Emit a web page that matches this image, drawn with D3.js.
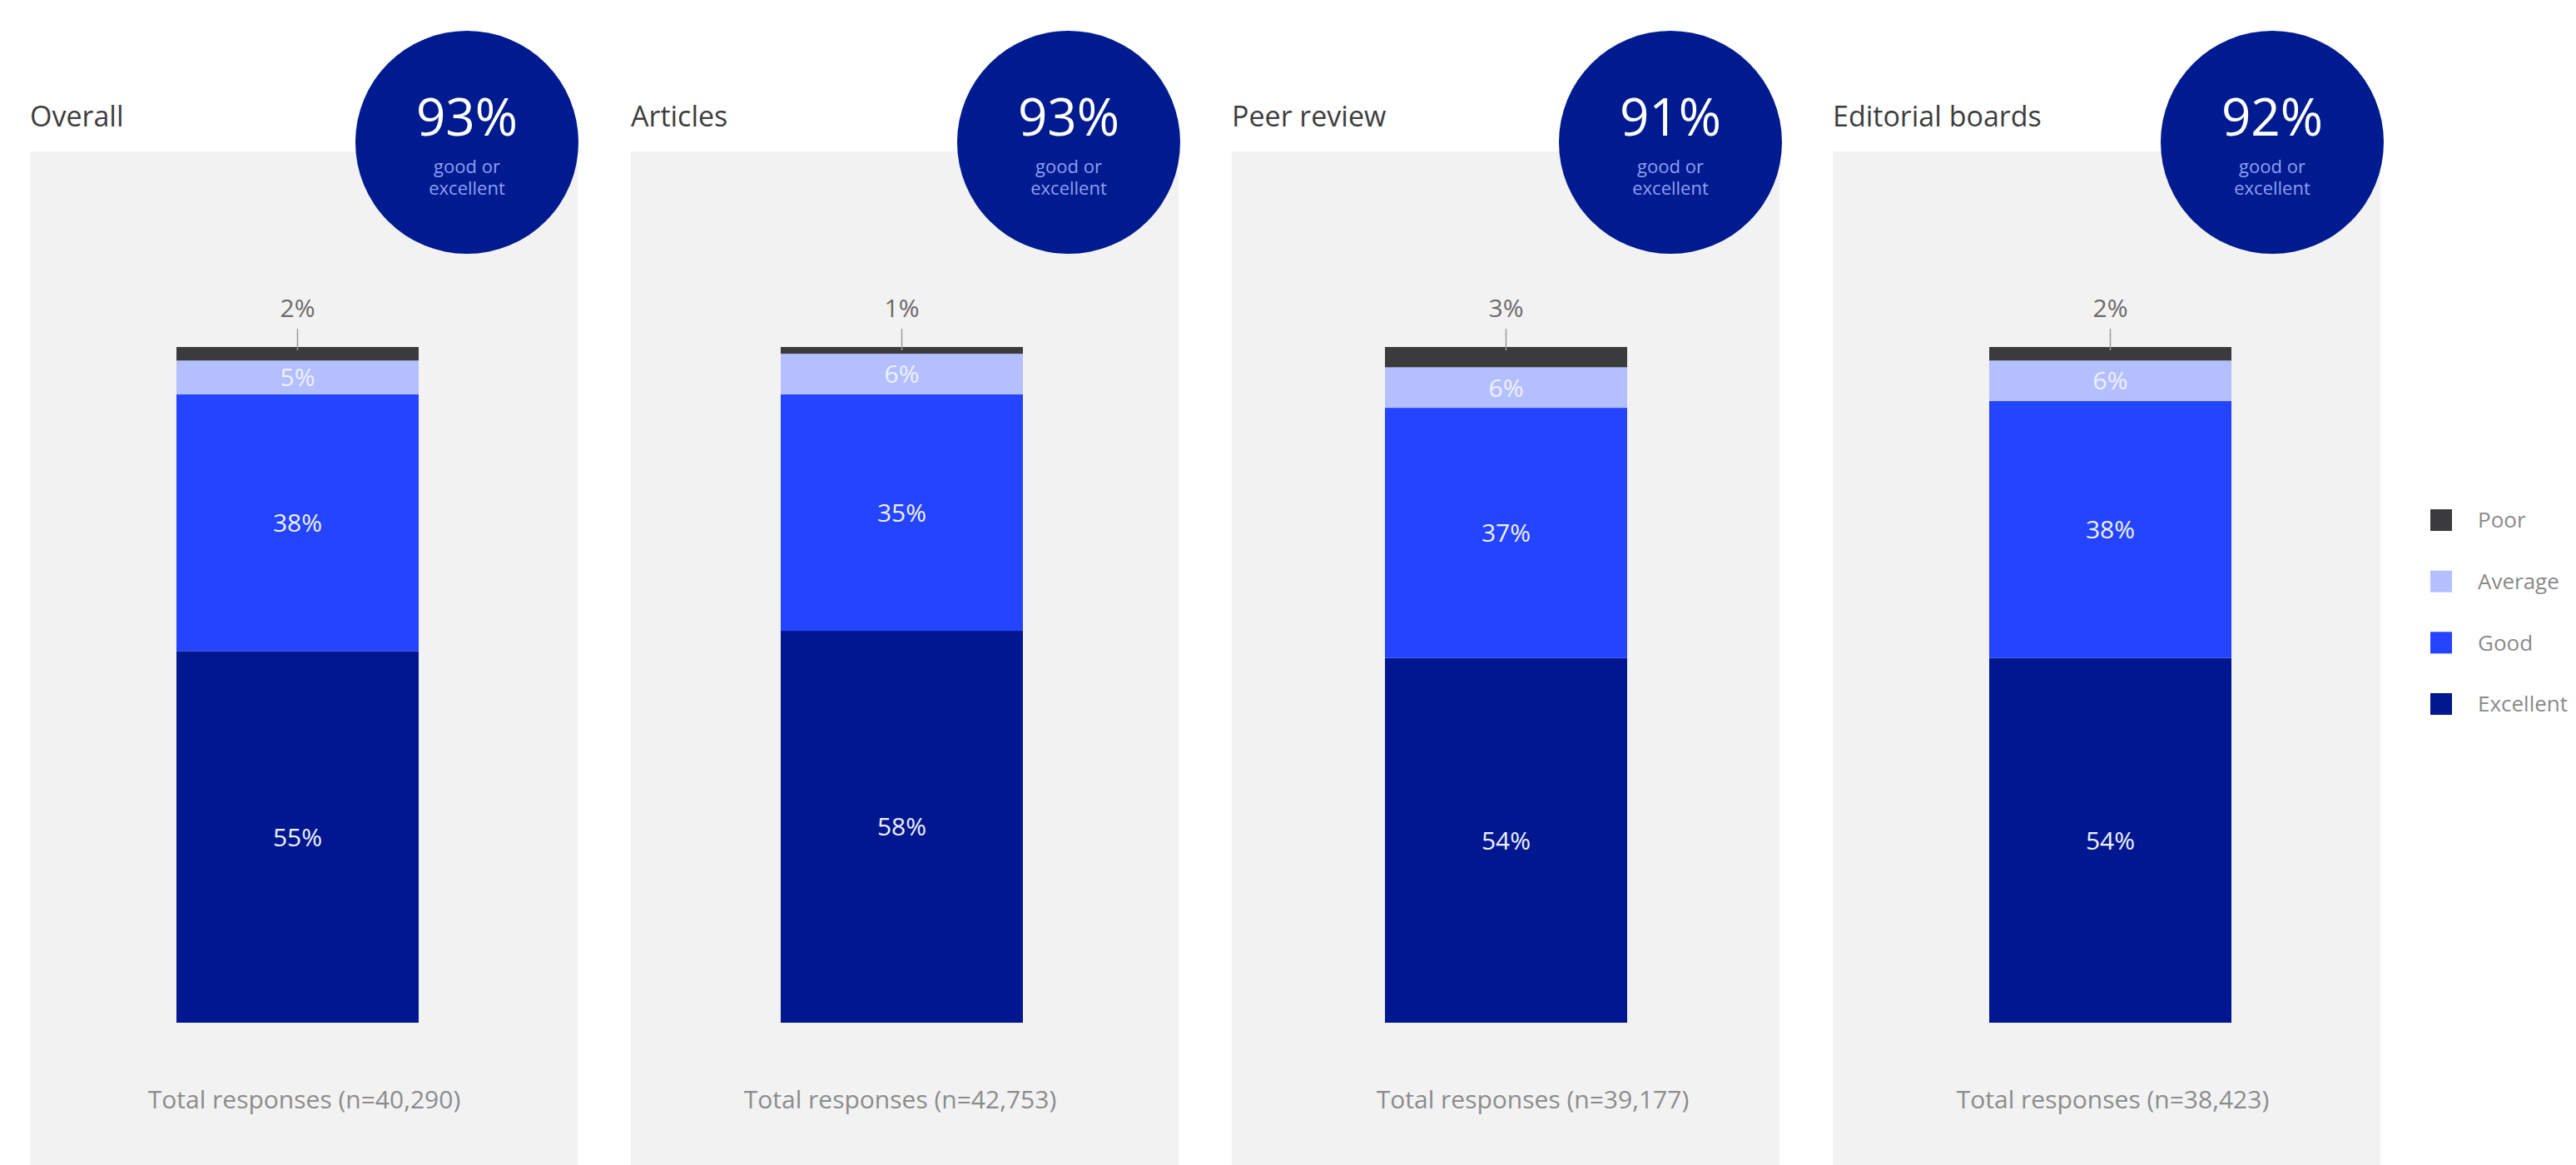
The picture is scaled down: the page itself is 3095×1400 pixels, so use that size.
<!DOCTYPE html>
<html>
<head>
<meta charset="utf-8">
<script src="https://cdn.jsdelivr.net/npm/d3@7"></script>
<style>
  html, body { margin: 0; padding: 0; background: #ffffff; }
  svg { display: block; font-family: "Open Sans", Lato, sans-serif; }
</style>
</head>
<body>
<svg id="chart" width="3095" height="1400"></svg>
<script>
// ---- data ----
const categories = ["Overall", "Articles", "Peer review", "Editorial boards"];
const excellent = [55, 58, 54, 54];
const good = [38, 35, 37, 38];
const average = [5, 6, 6, 6];
const poor = [2, 1, 3, 2];
const goodOrExcellent = [93, 93, 91, 92];
const responses = [40290, 42753, 39177, 38423];
const seriesKeys = ["Excellent", "Good", "Average", "Poor"];
const legendOrder = ["Poor", "Average", "Good", "Excellent"];

// ---- styles ----
const colors = { Poor: "#3b3b3d", Average: "#b4bfff", Good: "#2444ff", Excellent: "#00178f" };
const labelColors = { Average: "#eef1ff", Good: "#eef1ff", Excellent: "#eef1ff" };

const rows = categories.map((c, i) => ({
  category: c, Excellent: excellent[i], Good: good[i], Average: average[i], Poor: poor[i],
  goe: goodOrExcellent[i], n: responses[i], idx: i
}));

const svg = d3.select("#chart");

// ---- scales ----
const xPanel = d3.scaleLinear().domain([0, 3]).range([36, 2202]);
const panelW = 658;
const xBar = d3.scaleLinear().domain([0, 3]).range([212, 2390]);
const barW = 291;
const xCircle = d3.scaleLinear().domain([0, 3]).range([561, 2730]);
const y = d3.scaleLinear().domain([0, 100]).range([1229, 417]);
const totalOffsets = [8, -2, 32, 3];

const stack = d3.stack().keys(seriesKeys);
const stacked = stack(rows);

// ---- panels ----
svg.append("g").selectAll("rect").data(rows).join("rect")
  .attr("x", d => xPanel(d.idx)).attr("y", 182)
  .attr("width", panelW).attr("height", 1400 - 182)
  .attr("fill", "#f2f2f2");

// ---- titles ----
svg.append("g").selectAll("text").data(rows).join("text")
  .attr("x", d => xPanel(d.idx)).attr("y", 152)
  .attr("font-size", 34).attr("fill", "#3d3d3d")
  .text(d => d.category);

// ---- bars ----
const layers = svg.append("g").selectAll("g").data(stacked).join("g")
  .attr("fill", s => colors[s.key]);
layers.selectAll("rect").data(s => s.map(p => ({ p, key: s.key }))).join("rect")
  .attr("x", d => xBar(d.p.data.idx))
  .attr("y", d => y(d.p[1]))
  .attr("width", barW)
  .attr("height", d => y(d.p[0]) - y(d.p[1]));

// inner labels
svg.append("g").selectAll("g").data(stacked.filter(s => s.key !== "Poor")).join("g")
  .selectAll("text").data(s => s.map(p => ({ p, key: s.key }))).join("text")
  .attr("x", d => xBar(d.p.data.idx) + barW / 2)
  .attr("y", d => (y(d.p[0]) + y(d.p[1])) / 2)
  .attr("dy", "0.36em")
  .attr("text-anchor", "middle")
  .attr("font-size", 30)
  .attr("fill", d => labelColors[d.key])
  .text(d => (d.p[1] - d.p[0]) + "%");

// poor labels above with leader line
const poorLayer = stacked.find(s => s.key === "Poor");
const poorG = svg.append("g");
poorG.selectAll("line").data(poorLayer).join("line")
  .attr("x1", d => xBar(d.data.idx) + barW / 2)
  .attr("x2", d => xBar(d.data.idx) + barW / 2)
  .attr("y1", d => y(d[1]) - 22)
  .attr("y2", d => y(d[1]) + 4)
  .attr("stroke", "#9a9a9a").attr("stroke-width", 1.5);
poorG.selectAll("text").data(poorLayer).join("text")
  .attr("x", d => xBar(d.data.idx) + barW / 2)
  .attr("y", d => y(d[1]) - 36)
  .attr("text-anchor", "middle")
  .attr("font-size", 30)
  .attr("fill", "#6a6a6a")
  .text(d => (d[1] - d[0]) + "%");

// ---- circles ----
const circ = svg.append("g").selectAll("g").data(rows).join("g")
  .attr("transform", d => `translate(${xCircle(d.idx)},171)`);
circ.append("circle").attr("r", 134).attr("fill", "#001a8f");
circ.append("text").attr("y", 163 - 171).attr("text-anchor", "middle")
  .attr("font-size", 62).attr("fill", "#ffffff")
  .text(d => d.goe + "%");
circ.append("text").attr("y", 208 - 171).attr("text-anchor", "middle")
  .attr("font-size", 22).attr("fill", "#8f9ff2").text("good or");
circ.append("text").attr("y", 234 - 171).attr("text-anchor", "middle")
  .attr("font-size", 22).attr("fill", "#8f9ff2").text("excellent");

// ---- totals ----
const fmt = d3.format(",");
svg.append("g").selectAll("text").data(rows).join("text")
  .attr("x", d => xBar(d.idx) + barW / 2 + totalOffsets[d.idx])
  .attr("y", 1332)
  .attr("text-anchor", "middle")
  .attr("font-size", 30)
  .attr("fill", "#8c8c8c")
  .text(d => `Total responses (n=${fmt(d.n)})`);

// ---- legend ----
const ly = d3.scalePoint().domain(legendOrder).range([625, 846]);
const leg = svg.append("g").selectAll("g").data(legendOrder).join("g")
  .attr("transform", k => `translate(2920,${ly(k)})`);
leg.append("rect").attr("x", 0).attr("y", -13).attr("width", 26).attr("height", 26)
  .attr("fill", k => colors[k]);
leg.append("text").attr("x", 57).attr("dy", "0.36em")
  .attr("font-size", 26).attr("fill", "#8a8a8a").text(k => k);
</script>
</body>
</html>
